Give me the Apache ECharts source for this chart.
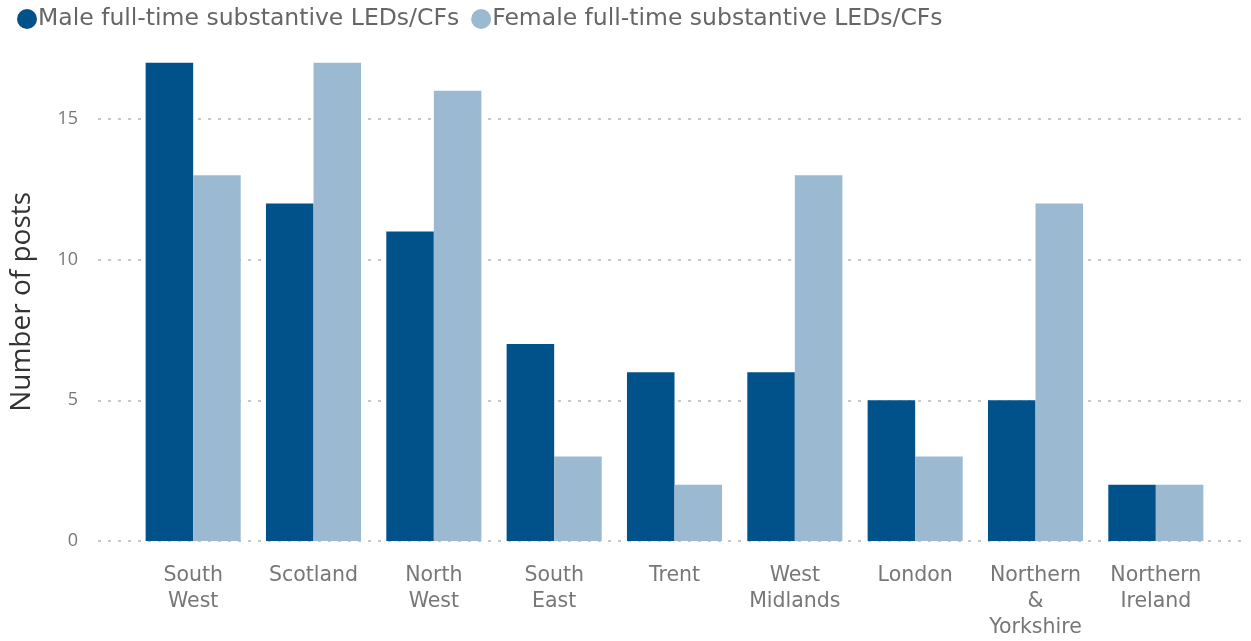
<!DOCTYPE html>
<html>
<head>
<meta charset="utf-8">
<script src="https://cdn.jsdelivr.net/npm/echarts@6/dist/echarts.min.js"></script>
<style>
  html, body { margin: 0; padding: 0; background: #fff; }
  #chart { width: 1251px; height: 641px; }
</style>
</head>
<body>
<div id="chart"></div>
<script>
const regions = [
  "South\nWest", "Scotland", "North\nWest", "South\nEast", "Trent",
  "West\nMidlands", "London", "Northern\n&\nYorkshire", "Northern\nIreland"
];
const maleLabel = "Male full-time substantive LEDs/CFs";
const femaleLabel = "Female full-time substantive LEDs/CFs";
const maleValues = [17, 12, 11, 7, 6, 6, 5, 5, 2];
const femaleValues = [13, 17, 16, 3, 2, 13, 3, 12, 2];
const yTicks = [0, 5, 10, 15];

const chart = echarts.init(document.getElementById("chart"));

const wideFont = "DejaVu Sans, sans-serif";
const nameFont = "Open Sans, sans-serif";

chart.setOption({
  animation: false,
  legend: {
    left: 12,
    top: 2,
    itemWidth: 20,
    itemHeight: 20,
    itemGap: 12,
    icon: "circle",
    textStyle: { color: "#666", fontSize: 23.5, fontFamily: wideFont, padding: [0, 0, 0, -4] },
    data: [maleLabel, femaleLabel],
  },
  grid: [
    // wide grid carrying the dashed gridlines and y labels
    { left: 97, right: 6, top: 62.7, bottom: 100 },
    // narrower grid for the bars
    { left: 133, right: 35, top: 62.7, bottom: 100 },
  ],
  xAxis: [
    { gridIndex: 0, type: "value", show: false, min: 0, max: 1 },
    {
      gridIndex: 1,
      type: "category",
      data: regions,
      axisLine: { show: false },
      axisTick: { show: false },
      axisLabel: {
        interval: 0,
        margin: 22,
        color: "#777",
        fontSize: 20.5,
        lineHeight: 26,
        fontFamily: wideFont,
      },
    },
  ],
  yAxis: [
    {
      gridIndex: 0,
      type: "value",
      min: 0,
      max: 17,
      interval: 5,
      name: "Number of posts",
      nameLocation: "middle",
      nameGap: 62,
      nameTextStyle: { color: "#333", fontSize: 28, fontFamily: nameFont },
      axisLine: { show: false },
      axisTick: { show: false },
      axisLabel: {
        margin: 20,
        color: "#777",
        fontSize: 18,
        fontFamily: nameFont,
        showMaxLabel: false,
        formatter: (v) => (yTicks.includes(v) ? String(v) : ""),
      },
      splitLine: {
        showMaxLine: false,
        lineStyle: { color: "#c8c8c8", type: [3, 7], width: 2 },
      },
    },
    { gridIndex: 1, type: "value", min: 0, max: 17, show: false, splitLine: { show: false } },
  ],
  series: [
    {
      name: maleLabel,
      type: "bar",
      xAxisIndex: 1,
      yAxisIndex: 1,
      data: maleValues,
      barGap: "0%",
      barCategoryGap: "21%",
      itemStyle: { color: "#01528a" },
    },
    {
      name: femaleLabel,
      type: "bar",
      xAxisIndex: 1,
      yAxisIndex: 1,
      data: femaleValues,
      barGap: "0%",
      barCategoryGap: "21%",
      itemStyle: { color: "#9bbad2" },
    },
  ],
});
</script>
</body>
</html>
